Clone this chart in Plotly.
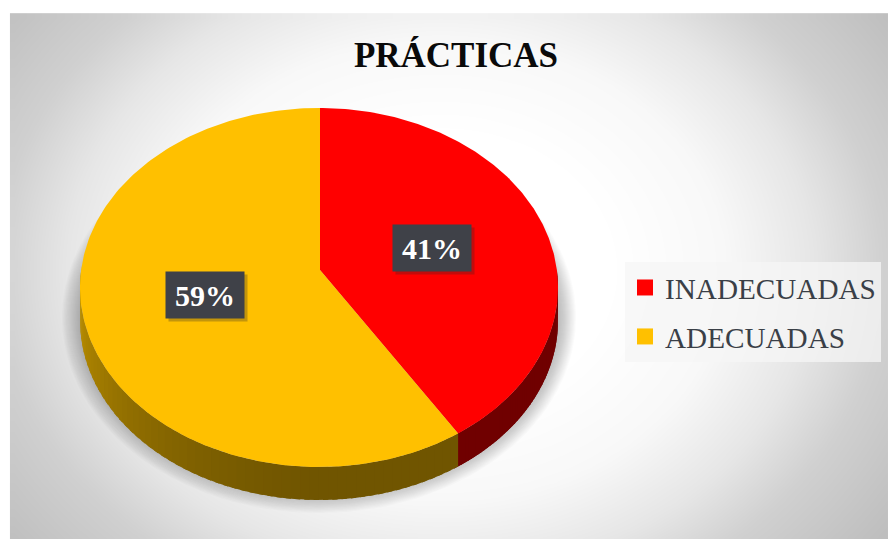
import numpy as np
import plotly.graph_objects as go

categories = ["INADECUADAS", "ADECUADAS"]
values = [41, 59]
labels = ["41%", "59%"]
top_colors = ["#FF0000", "#FFC000"]
title_text = "PRÁCTICAS"

W, H = 888, 539
SERIF = "Liberation Serif"
cx, cy, rx, ry = 319.0, 287.5, 239.0, 179.5
hx, hy = 320.0, 270.0
depth = 33.0

def rim(theta):
    """Point on the tilted pie's rim, seen from the off-centre hub."""
    dx, dy = rx * np.sin(theta), -ry * np.cos(theta)
    ox, oy = (hx - cx) / rx, (hy - cy) / ry
    ux, uy = dx / rx, dy / ry
    a = ux**2 + uy**2
    b = 2 * (ox * ux + oy * uy)
    c = ox**2 + oy**2 - 1
    t = (-b + np.sqrt(b**2 - 4 * a * c)) / (2 * a)
    return hx + t * dx, hy + t * dy

def mix(c1, c2, f):
    return "rgb(%d,%d,%d)" % tuple(int(round(a + (b - a) * f)) for a, b in zip(c1, c2))

fig = go.Figure()

# Background: soft radial gradient inside a white margin
gx = np.linspace(14, W + 4, 110)
gy = np.linspace(17, H + 4, 70)
X, Y = np.meshgrid(gx, gy)
d = np.sqrt(((X - 440) / W) ** 2 + ((Y - 270) / H * 0.75) ** 2)
z = np.interp(d, [0.0, 0.19, 0.32, 0.42, 0.50, 0.62, 0.72], [255, 255, 248, 230, 208, 190, 182])
fig.add_trace(go.Heatmap(x=gx, y=gy, z=z, zmin=0, zmax=255, zsmooth="best", showscale=False,
                         colorscale=[[0, "#000000"], [1, "#FFFFFF"]], hoverinfo="skip"))

# Soft drop shadow below the pie
t = np.linspace(0, 2 * np.pi, 181)
steps = 20
for i in range(steps):
    g = 1 - i / steps
    fig.add_trace(go.Scatter(
        x=cx + (rx + 20 * g - 2) * np.sin(t), y=cy + 30 + (ry + 22 * g - 6) * np.cos(t),
        mode="lines", fill="toself", line=dict(width=0),
        fillcolor="rgba(70,72,85,0.022)", showlegend=False, hoverinfo="skip"))

fractions = np.array(values) / sum(values)
edges = np.concatenate([[0], np.cumsum(fractions)]) * 2 * np.pi

# Pie wall (only the front half of the rim is visible)
side_dark = [(112, 0, 0), (112, 85, 0)]
side_light = [(128, 0, 0), (196, 150, 0)]
for k in range(len(values)):
    lo, hi = max(edges[k], np.pi / 2), min(edges[k + 1], 1.5 * np.pi)
    n = 60
    th = np.linspace(lo, hi, n + 1)
    for j in range(n):
        a = np.linspace(th[j], th[j + 1] + 0.02, 3)
        px, py = rim(a)
        mid = (th[j] + th[j + 1]) / 2
        f = ((mid - np.pi) / (np.pi / 2)) ** 1.5 if mid > np.pi else 0.0
        fig.add_trace(go.Scatter(
            x=np.concatenate([px, px[::-1]]), y=np.concatenate([py, py[::-1] + depth]),
            mode="lines", fill="toself", line=dict(width=0),
            fillcolor=mix(side_dark[k], side_light[k], f), showlegend=False, hoverinfo="skip"))

# Pie top
for k, name in enumerate(categories):
    a = np.linspace(edges[k], edges[k + 1], 200)
    px, py = rim(a)
    fig.add_trace(go.Scatter(
        x=np.concatenate([[hx], px, [hx]]), y=np.concatenate([[hy], py, [hy]]),
        mode="lines", fill="toself", line=dict(width=0), fillcolor=top_colors[k],
        name=name, showlegend=False, hoverinfo="skip"))

# Legend entries
for k, name in enumerate(categories):
    fig.add_trace(go.Scatter(
        x=[None], y=[None], mode="markers", name=name, legendgroup=name,
        marker=dict(symbol="square", size=16, color=top_colors[k])))

# Data labels
mid_angles = (edges[:-1] + edges[1:]) / 2
annotations = []
for k, text in enumerate(labels):
    lx = hx + 0.5 * rx * np.sin(mid_angles[k]) - (2.5 if k == 0 else 0)
    ly = hy - 0.5 * ry * np.cos(mid_angles[k]) + (3 if k == 0 else 0)
    annotations.append(dict(x=lx + 3, y=ly + 3, text=" ", showarrow=False, width=76, height=44,
                            bgcolor="rgba(40,40,40,0.28)", font=dict(size=24, family=SERIF)))
    annotations.append(dict(x=lx, y=ly, text="<b>%s</b>" % text, showarrow=False, width=76, height=44,
                            bgcolor="#3F4148", align="center", valign="middle",
                            font=dict(size=30, family=SERIF, color="#FFFFFF")))

fig.update_layout(
    width=W, height=H, autosize=False,
    margin=dict(l=0, r=0, t=0, b=0),
    paper_bgcolor="#FFFFFF", plot_bgcolor="#FFFFFF",
    title=dict(text="<b>%s</b>" % title_text, x=456 / W, xanchor="center", y=1 - 55 / H, yanchor="middle",
               font=dict(family=SERIF, size=35, color="#0A0A0A")),
    xaxis=dict(range=[0, W], visible=False, fixedrange=True),
    yaxis=dict(range=[H, 0], visible=False, fixedrange=True),
    showlegend=True,
    legend=dict(x=625 / W, xanchor="left", y=1 - 262 / H, yanchor="top",
                bgcolor="rgba(246,246,246,0.75)", borderwidth=0, tracegroupgap=8,
                itemwidth=30, font=dict(family=SERIF, size=29.2, color="#3A3F47")),
    annotations=annotations,
)
fig.write_html("out.html", config=dict(displayModeBar=False),
               post_script="document.body.style.margin='0';document.documentElement.style.overflow='hidden';")
